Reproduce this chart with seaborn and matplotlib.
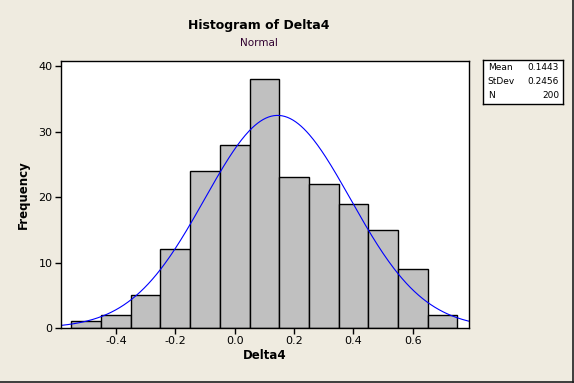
import numpy as np
import pandas as pd
import matplotlib
matplotlib.use("Agg")
import matplotlib.pyplot as plt
import seaborn as sns

# --- Data ---
bin_edges = [-0.55, -0.45, -0.35, -0.25, -0.15, -0.05, 0.05, 0.15,
             0.25, 0.35, 0.45, 0.55, 0.65, 0.75]
counts = [1, 2, 5, 12, 24, 28, 38, 23, 22, 19, 15, 9, 2]
mean_val = 0.1443
std_val = 0.2456
n_obs = 200
x_ticks = [-0.4, -0.2, 0.0, 0.2, 0.4, 0.6]
y_ticks = [0, 10, 20, 30, 40]

bg = "#EFEBE0"
centers = [(a + b) / 2 for a, b in zip(bin_edges[:-1], bin_edges[1:])]
hist_df = pd.DataFrame({"Delta4": centers, "count": counts})

# fitted normal curve scaled to counts (bin width 0.1)
xlim = (-0.585, 0.789)
xs = np.linspace(xlim[0], xlim[1], 300)
width = bin_edges[1] - bin_edges[0]
ys = n_obs * width * np.exp(-0.5 * ((xs - mean_val) / std_val) ** 2) / (std_val * np.sqrt(2 * np.pi))
curve_df = pd.DataFrame({"x": xs, "y": ys})

sns.set_theme(style="white")
plt.rcParams["font.family"] = ["DejaVu Sans"]
plt.rcParams["text.color"] = "black"
plt.rcParams["axes.labelcolor"] = "black"
plt.rcParams["xtick.color"] = "black"
plt.rcParams["ytick.color"] = "black"

fig = plt.figure(figsize=(5.74, 3.83), dpi=100, facecolor=bg)
ax = fig.add_axes([61 / 574, 1 - 328 / 383, 408 / 574, 267 / 383])
ax.set_facecolor("white")

sns.histplot(data=hist_df, x="Delta4", weights="count", bins=bin_edges,
             color="#C0C0C0", edgecolor="black", linewidth=1.0, alpha=1,
             ax=ax)
sns.lineplot(data=curve_df, x="x", y="y", color="#0000FF", linewidth=0.8, ax=ax)

ax.set_xlim(*xlim)
ax.set_ylim(0, 40.8)
ax.set_xticks(x_ticks)
ax.set_xticklabels([f"{t:.1f}" for t in x_ticks])
ax.set_yticks(y_ticks)
ax.tick_params(axis="both", direction="out", length=4, width=1, color="black",
               labelcolor="black", labelsize=8, pad=2, bottom=True, left=True)
for s in ax.spines.values():
    s.set_color("black")
    s.set_linewidth(1.0)

ax.set_xlabel("Delta4", fontsize=8.5, fontweight="bold", labelpad=2)
ax.set_ylabel("Frequency", fontsize=8.5, fontweight="bold", labelpad=6)

fig.text(259 / 574, 1 - 26 / 383, "Histogram of Delta4", ha="center", va="center",
         fontsize=9, fontweight="bold", color="black")
fig.text(259 / 574, 1 - 43 / 383, "Normal", ha="center", va="center",
         fontsize=7.5, color="#300030")

# stats box
bx = fig.add_axes([483 / 574, 1 - 104 / 383, 80 / 574, 44 / 383])
bx.set_facecolor("white")
bx.set_xticks([]); bx.set_yticks([])
for s in bx.spines.values():
    s.set_color("black"); s.set_linewidth(1.0)
rows = [("Mean", f"{mean_val:.4f}"), ("StDev", f"{std_val:.4f}"), ("N", f"{n_obs}")]
for i, (k, v) in enumerate(rows):
    yy = 0.82 - i * 0.31
    bx.text(0.06, yy, k, transform=bx.transAxes, fontsize=6.5, va="center", ha="left")
    bx.text(0.95, yy, v, transform=bx.transAxes, fontsize=6.5, va="center", ha="right")

# dark edge on right/bottom of the image
fig.add_artist(plt.Line2D([0.998, 0.998], [0, 1], transform=fig.transFigure, color="#202020", lw=1.2))
fig.add_artist(plt.Line2D([0, 1], [0.002, 0.002], transform=fig.transFigure, color="#202020", lw=1.2))

fig.savefig("out.png", dpi=100, facecolor=bg)
